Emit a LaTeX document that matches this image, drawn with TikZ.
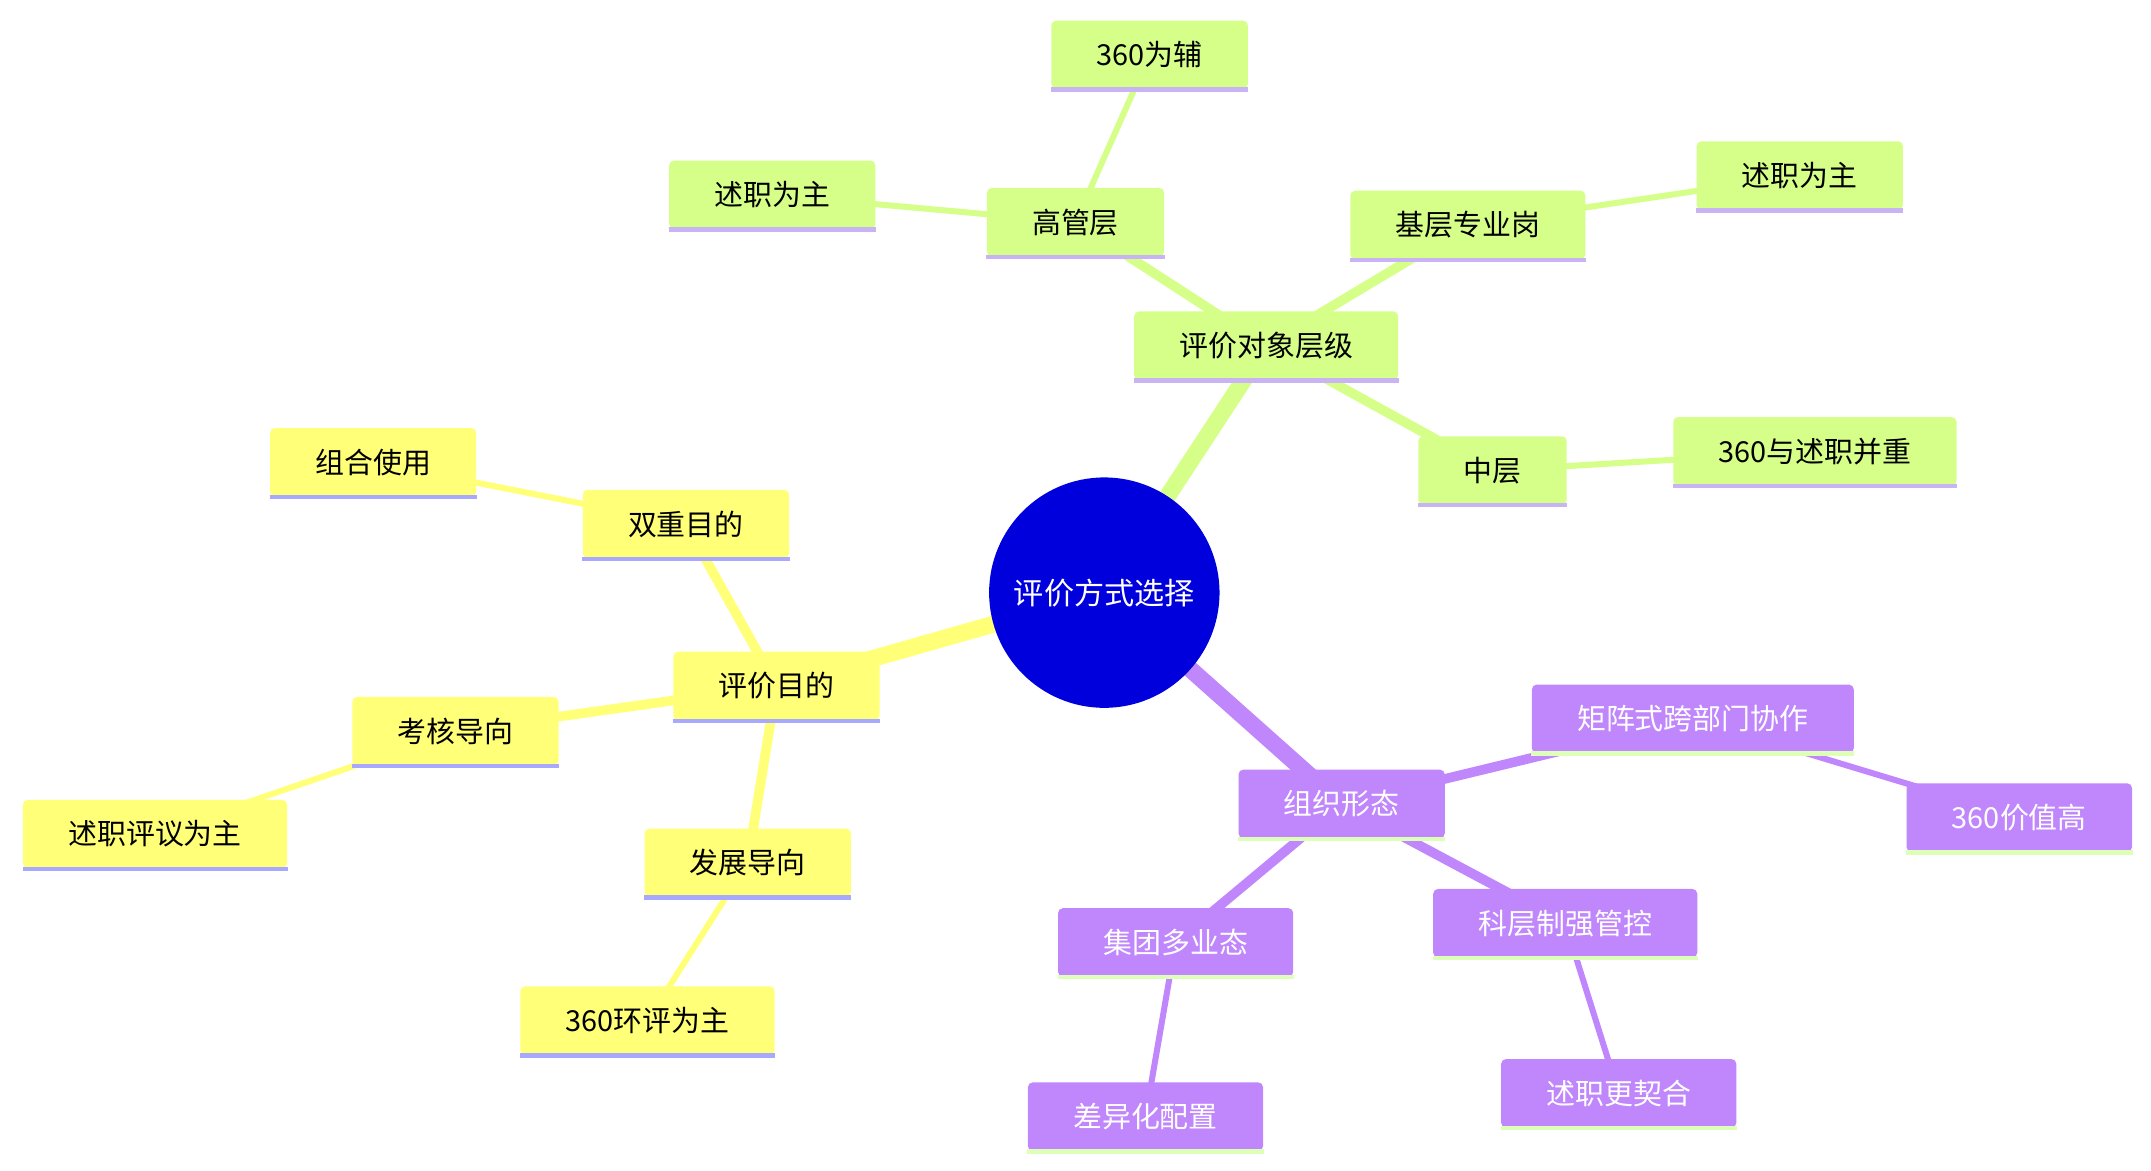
\documentclass[tikz,border=0pt]{standalone}
\usepackage{fontspec}
\setmainfont{Noto Sans CJK SC}
\usetikzlibrary{backgrounds}
\definecolor{greenfill}{HTML}{D6FF8A}
\definecolor{greenline}{HTML}{C8B4F4}
\definecolor{yellowfill}{HTML}{FFFF78}
\definecolor{yellowline}{HTML}{A8A8FF}
\definecolor{purplefill}{HTML}{C086FC}
\definecolor{purpleline}{HTML}{DDFFB8}
\definecolor{rootfill}{HTML}{0000DD}
\tikzset{
    my-box/.style={
        rectangle, rounded corners=2pt, inner xsep=0.66cm, minimum height=1cm,
        font=\fontsize{12}{14}\selectfont
    },
    my-green/.style={
        my-box, fill=greenfill, text=black,
        append after command={(\tikzlastnode.south west) edge[draw=greenline, line width=1.8pt] (\tikzlastnode.south east)}
    },
    my-yellow/.style={
        my-box, fill=yellowfill, text=black,
        append after command={(\tikzlastnode.south west) edge[draw=yellowline, line width=1.8pt] (\tikzlastnode.south east)}
    },
    my-purple/.style={
        my-box, fill=purplefill, text=white,
        append after command={(\tikzlastnode.south west) edge[draw=purpleline, line width=1.8pt] (\tikzlastnode.south east)}
    },
    my-root/.style={
        circle, fill=rootfill, text=white, minimum size=3.36cm, inner sep=0pt,
        font=\fontsize{12.5}{14}\selectfont
    },
}

\begin{document}
\begin{tikzpicture}[x=0.02cm, y=-0.02cm]

        \useasboundingbox (0,0) rectangle (1568,853);

        % ROOT
        \node[my-root]   (ROOT)  at (805,432)  {评价方式选择};

        % LEVELS BRANCH
        \node[my-green]  (LVL)   at (923,252)  {评价对象层级};
        \node[my-green]  (TOP)   at (784,162)  {高管层};
        \node[my-green]  (TOPA)  at (838,40)   {360为辅};
        \node[my-green]  (TOPB)  at (563,142)  {述职为主};
        \node[my-green]  (BASE)  at (1070,164) {基层专业岗};
        \node[my-green]  (BASEA) at (1312,128) {述职为主};
        \node[my-green]  (MID)   at (1088,343) {中层};
        \node[my-green]  (MIDA)  at (1323,329) {360与述职并重};

        % PURPOSE BRANCH
        \node[my-yellow] (PUR)   at (566,500)  {评价目的};
        \node[my-yellow] (DUAL)  at (500,382)  {双重目的};
        \node[my-yellow] (DUALA) at (272,337)  {组合使用};
        \node[my-yellow] (ASS)   at (332,533)  {考核导向};
        \node[my-yellow] (ASSA)  at (113,608)  {述职评议为主};
        \node[my-yellow] (DEV)   at (545,629)  {发展导向};
        \node[my-yellow] (DEVA)  at (472,744)  {360环评为主};

        % ORGANISATION BRANCH
        \node[my-purple] (ORG)   at (978,586)  {组织形态};
        \node[my-purple] (MAT)   at (1234,524) {矩阵式跨部门协作};
        \node[my-purple] (MATA)  at (1472,596) {360价值高};
        \node[my-purple] (BUR)   at (1141,673) {科层制强管控};
        \node[my-purple] (BURA)  at (1180,797) {述职更契合};
        \node[my-purple] (GRP)   at (857,687)  {集团多业态};
        \node[my-purple] (GRPA)  at (835,814)  {差异化配置};

        % CONNECTIONS
        \begin{scope}[on background layer]
            \draw[greenfill, line width=7pt]  (ROOT.center) -- (LVL.center);
            \draw[yellowfill, line width=7pt] (ROOT.center) -- (PUR.center);
            \draw[purplefill, line width=7pt] (ROOT.center) -- (ORG.center);

            \draw[greenfill, line width=4pt]  (LVL.center) -- (TOP.center);
            \draw[greenfill, line width=4pt]  (LVL.center) -- (BASE.center);
            \draw[greenfill, line width=4pt]  (LVL.center) -- (MID.center);
            \draw[greenfill, line width=2.5pt] (TOP.center) -- (TOPA.center);
            \draw[greenfill, line width=2.5pt] (TOP.center) -- (TOPB.center);
            \draw[greenfill, line width=2.5pt] (BASE.center) -- (BASEA.center);
            \draw[greenfill, line width=2.5pt] (MID.center) -- (MIDA.center);

            \draw[yellowfill, line width=4pt]  (PUR.center) -- (DUAL.center);
            \draw[yellowfill, line width=4pt]  (PUR.center) -- (ASS.center);
            \draw[yellowfill, line width=4pt]  (PUR.center) -- (DEV.center);
            \draw[yellowfill, line width=2.5pt] (DUAL.center) -- (DUALA.center);
            \draw[yellowfill, line width=2.5pt] (ASS.center) -- (ASSA.center);
            \draw[yellowfill, line width=2.5pt] (DEV.center) -- (DEVA.center);

            \draw[purplefill, line width=4pt]  (ORG.center) -- (MAT.center);
            \draw[purplefill, line width=4pt]  (ORG.center) -- (BUR.center);
            \draw[purplefill, line width=4pt]  (ORG.center) -- (GRP.center);
            \draw[purplefill, line width=2.5pt] (MAT.center) -- (MATA.center);
            \draw[purplefill, line width=2.5pt] (BUR.center) -- (BURA.center);
            \draw[purplefill, line width=2.5pt] (GRP.center) -- (GRPA.center);
        \end{scope}

    \end{tikzpicture}
\end{document}
